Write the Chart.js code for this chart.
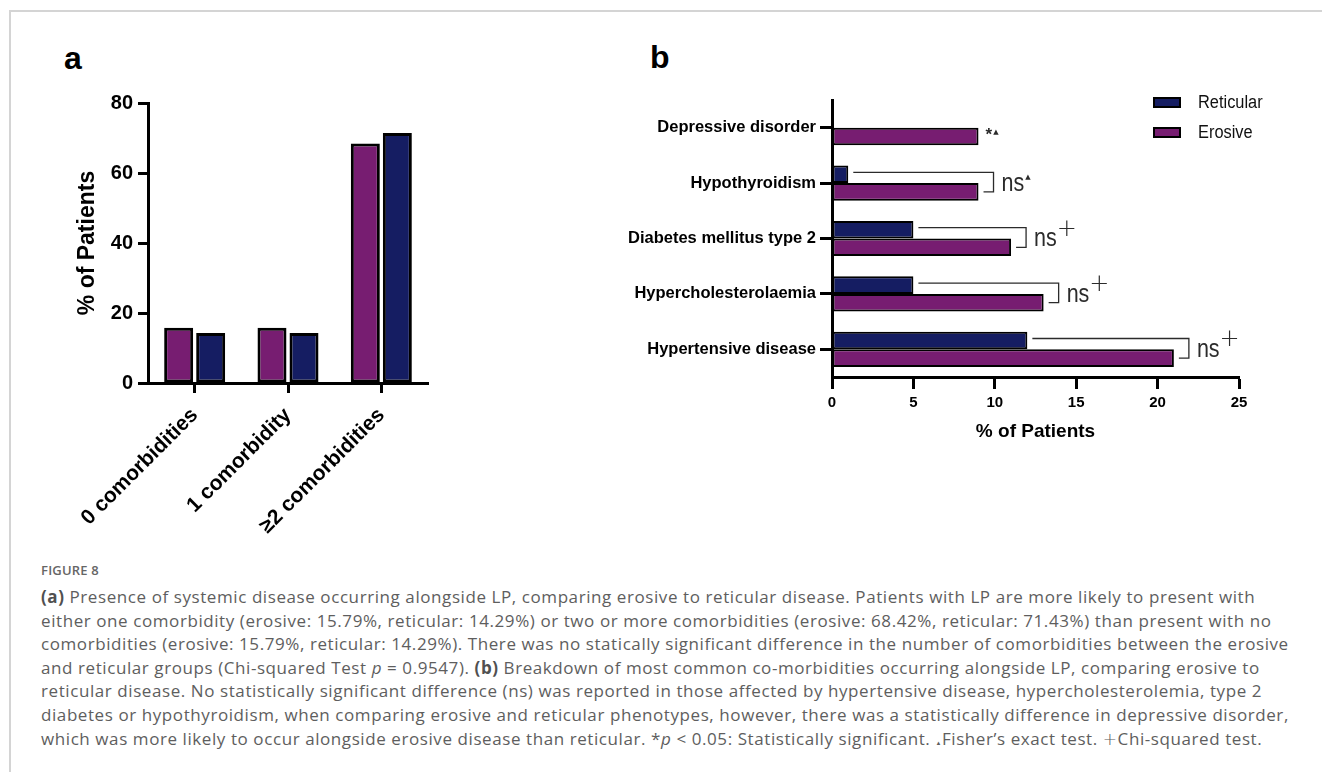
<!DOCTYPE html>
<html>
<head>
<meta charset="utf-8">
<script src="https://cdn.jsdelivr.net/npm/chart.js@4.4.1/dist/chart.umd.min.js"></script>
<style>
  html, body { margin: 0; padding: 0; background: #fff; }
  body { width: 1322px; height: 772px; position: relative; overflow: hidden; font-family: "Liberation Sans", Arial, sans-serif; }
  .frame { position: absolute; left: 9px; top: 10px; width: 1400px; height: 800px; border-top: 2px solid #d4d4d4; border-left: 2px solid #d4d4d4; }
  .panel-label { position: absolute; font: bold 32px "Liberation Sans", Arial, sans-serif; line-height: 32px; color: #000; }
  canvas { position: absolute; }
  #chartA { left: 40px; top: 80px; }
  #chartB { left: 600px; top: 80px; }
  .legend-item { position: absolute; left: 1153px; height: 14px; }
  .legend-item .box { position: absolute; left: 0; top: 0; width: 24px; height: 7px; border: 2px solid #000; }
  .legend-item .txt { position: absolute; left: 45px; top: -5px; font: 18px "Liberation Sans", Arial, sans-serif; line-height: 20px; color: #111; white-space: nowrap; transform: scaleX(0.91); transform-origin: left center; }
  .fig-no { position: absolute; left: 41px; top: 561px; font: 600 13px "Open Sans", sans-serif; color: #666; letter-spacing: 0.2px; }
  .caption { position: absolute; left: 41px; top: 585px; font: 17px "Open Sans", sans-serif; line-height: 23.6px; color: #5e5e5e; white-space: nowrap; letter-spacing: 0.58px; }
  .caption b { color: #505050; }
  .tri { font-size: 6px; vertical-align: baseline; }
  .thin { font-weight: 200; font-family: "DejaVu Sans", sans-serif; }
</style>
</head>
<body>
<div class="frame"></div>
<div class="panel-label" style="left:64px; top:42px;">a</div>
<div class="panel-label" style="left:650px; top:41px;">b</div>

<canvas id="chartA" width="400" height="480"></canvas>
<canvas id="chartB" width="700" height="380"></canvas>
<div id="legendB"></div>

<div class="fig-no">FIGURE 8</div>
<div class="caption">
  <div><b>(a)</b> Presence of systemic disease occurring alongside LP, comparing erosive to reticular disease. Patients with LP are more likely to present with</div>
  <div>either one comorbidity (erosive: 15.79%, reticular: 14.29%) or two or more comorbidities (erosive: 68.42%, reticular: 71.43%) than present with no</div>
  <div>comorbidities (erosive: 15.79%, reticular: 14.29%). There was no statically significant difference in the number of comorbidities between the erosive</div>
  <div>and reticular groups (Chi-squared Test <i>p</i> = 0.9547). <b>(b)</b> Breakdown of most common co-morbidities occurring alongside LP, comparing erosive to</div>
  <div>reticular disease. No statistically significant difference (ns) was reported in those affected by hypertensive disease, hypercholesterolemia, type 2</div>
  <div>diabetes or hypothyroidism, when comparing erosive and reticular phenotypes, however, there was a statistically difference in depressive disorder,</div>
  <div>which was more likely to occur alongside erosive disease than reticular. *<i>p</i> &lt; 0.05: Statistically significant. <span class="tri">▲</span>Fisher’s exact test. <span class="thin">+</span>Chi-squared test.</div>
</div>

<script>
// panel a: number of comorbidities per phenotype (% of patients)
const groupLabels = ['0 comorbidities', '1 comorbidity', '≥2 comorbidities'];
const erosiveGroups = [15.79, 15.79, 68.42];
const reticularGroups = [14.29, 14.29, 71.43];
const pctTicksA = [0, 20, 40, 60, 80];

// panel b: most common comorbidities (% of patients)
const comorbidities = ['Depressive disorder', 'Hypothyroidism', 'Diabetes mellitus type 2', 'Hypercholesterolaemia', 'Hypertensive disease'];
const reticularPct = [0, 1, 5, 5, 12];
const erosivePct = [9, 9, 11, 13, 21];
const pctTicksB = [0, 5, 10, 15, 20, 25];
const sigMarks = ['*', 'ns', 'ns', 'ns', 'ns'];
const testUsed = ['fisher', 'fisher', 'chi', 'chi', 'chi'];

const EROSIVE = '#771d71';
const RETICULAR = '#151d62';
const FONT = '"Liberation Sans", Arial, sans-serif';

Chart.defaults.font.family = FONT;
Chart.defaults.color = '#000';

function axisStyle(tickLen) {
  return {
    border: { display: true, color: '#000', width: 3 },
    grid: { display: true, drawOnChartArea: false, drawTicks: true, tickLength: tickLen, tickWidth: 3, tickColor: '#000', offset: false }
  };
}

new Chart(document.getElementById('chartA'), {
  type: 'bar',
  data: {
    labels: groupLabels,
    datasets: [
      { label: 'Erosive', data: erosiveGroups, backgroundColor: EROSIVE, borderColor: '#000', borderWidth: 3, borderSkipped: false },
      { label: 'Reticular', data: reticularGroups, backgroundColor: RETICULAR, borderColor: '#000', borderWidth: 3, borderSkipped: false }
    ]
  },
  options: {
    responsive: false,
    animation: false,
    devicePixelRatio: 1,
    categoryPercentage: 0.686,
    barPercentage: 0.906,
    layout: { padding: { top: 23, right: 12, left: 0, bottom: 0 } },
    plugins: { legend: { display: false }, tooltip: { enabled: false } },
    scales: {
      x: {
        ...axisStyle(10),
        offset: true,
        ticks: { font: { size: 21, weight: 'bold' }, minRotation: 45, maxRotation: 45, autoSkip: false, padding: 10 },
        afterFit: s => { s.height = 177; }
      },
      y: {
        ...axisStyle(10),
        min: 0, max: 80,
        afterBuildTicks: s => { s.ticks = pctTicksA.map(v => ({ value: v })); },
        ticks: { font: { size: 20, weight: 'bold' }, padding: 5 },
        title: { display: true, text: '% of Patients', font: { size: 23, weight: 'bold' }, padding: { top: 34 } },
        afterFit: s => { s.width = 108; }
      }
    }
  }
});

// brackets, "ns" / "*" and test markers beside each pair of bars
const sigPlugin = {
  id: 'sigBrackets',
  afterDatasetsDraw(chart) {
    const ctx = chart.ctx;
    const ret = chart.getDatasetMeta(0).data;
    const ero = chart.getDatasetMeta(1).data;
    ctx.save();
    ctx.strokeStyle = '#2b2b2b';
    ctx.fillStyle = '#2b2b2b';
    ctx.lineWidth = 1.3;
    comorbidities.forEach((name, i) => {
      const e = ero[i], r = ret[i];
      let endX, topY;
      if (sigMarks[i] === 'ns') {
        const bx = e.x + 15;
        const yTop = r.y - 2;
        ctx.beginPath();
        ctx.moveTo(r.x + 5, yTop);
        ctx.lineTo(bx, yTop);
        ctx.lineTo(bx, e.y);
        ctx.lineTo(bx - 10, e.y);
        ctx.stroke();
        ctx.save();
        ctx.font = '25px ' + FONT;
        ctx.textBaseline = 'alphabetic';
        ctx.textAlign = 'left';
        const w = ctx.measureText('ns').width * 0.86;
        ctx.translate(bx + 8, e.y - 1);
        ctx.scale(0.86, 1);
        ctx.fillText('ns', 0, 0);
        ctx.restore();
        endX = bx + 8 + w;
        topY = e.y - 15;
      } else {
        ctx.font = 'bold 17px ' + FONT;
        ctx.textBaseline = 'middle';
        ctx.textAlign = 'left';
        ctx.fillText('*', e.x + 7, e.y - 1);
        endX = e.x + 7 + ctx.measureText('*').width;
        topY = e.y - 4;
      }
      if (testUsed[i] === 'fisher') {
        ctx.font = '7px "DejaVu Sans"';
        ctx.textBaseline = 'middle';
        ctx.textAlign = 'left';
        ctx.fillText('▲', endX + 1, topY);
      } else {
        ctx.font = '200 24px "DejaVu Sans"';
        ctx.textBaseline = 'middle';
        ctx.textAlign = 'center';
        ctx.fillText('+', endX + 10, e.y - 18);
      }
    });
    ctx.restore();
  }
};

const chartB = new Chart(document.getElementById('chartB'), {
  type: 'bar',
  data: {
    labels: comorbidities,
    datasets: [
      { label: 'Reticular', data: reticularPct, backgroundColor: RETICULAR, borderColor: '#000', borderWidth: 2, borderSkipped: false },
      { label: 'Erosive', data: erosivePct, backgroundColor: EROSIVE, borderColor: '#000', borderWidth: 2, borderSkipped: false }
    ]
  },
  plugins: [sigPlugin],
  options: {
    indexAxis: 'y',
    responsive: false,
    animation: false,
    devicePixelRatio: 1,
    categoryPercentage: 0.635,
    barPercentage: 1,
    layout: { padding: { top: 20, right: 61, left: 0, bottom: 0 } },
    plugins: { legend: { display: false }, tooltip: { enabled: false } },
    scales: {
      y: {
        ...axisStyle(12),
        offset: true,
        ticks: { font: { size: 16.5, weight: 'bold' }, padding: 4, autoSkip: false },
        afterFit: s => { s.width = 232; }
      },
      x: {
        ...axisStyle(12),
        min: 0, max: 25,
        afterBuildTicks: s => { s.ticks = pctTicksB.map(v => ({ value: v })); },
        ticks: { font: { size: 15, weight: 'bold' }, padding: 5 },
        title: { display: true, text: '% of Patients', font: { size: 19, weight: 'bold' }, padding: { top: 0, bottom: 17 } },
        afterFit: s => { s.height = 83; }
      }
    }
  }
});

// legend for panel b, built from the dataset styles
const legendEl = document.getElementById('legendB');
chartB.data.datasets.forEach((ds, i) => {
  const item = document.createElement('div');
  item.className = 'legend-item';
  item.style.top = (97 + i * 30) + 'px';
  item.innerHTML = '<div class="box" style="background:' + ds.backgroundColor + '"></div><div class="txt">' + ds.label + '</div>';
  legendEl.appendChild(item);
});
</script>
</body>
</html>
